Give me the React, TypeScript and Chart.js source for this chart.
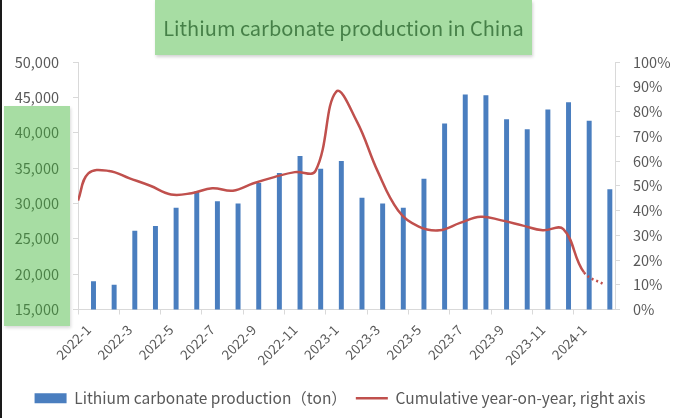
import React, { useEffect, useRef } from 'react';
import { Chart, registerables } from 'chart.js';

Chart.register(...registerables);

const MONTHS = [
  '2022-1', '2022-2', '2022-3', '2022-4', '2022-5', '2022-6', '2022-7', '2022-8', '2022-9', '2022-10', '2022-11', '2022-12',
  '2023-1', '2023-2', '2023-3', '2023-4', '2023-5', '2023-6', '2023-7', '2023-8', '2023-9', '2023-10', '2023-11', '2023-12',
  '2024-1', '2024-2',
];

const PRODUCTION = [
  19000, 18500, 26150, 26800, 29400, 31700, 30300, 30000, 32900, 34300, 36700, 34900,
  36000, 30800, 30000, 29400, 33500, 41300, 45400, 45300, 41900, 40500, 43300, 44300,
  41700, 32000,
];

// cumulative year-on-year (%), right axis; value where the curve enters the plot at its left edge
const YOY_EDGE = 44;
const YOY = [
  55, 56, 53, 50, 46.5, 47, 49, 48, 51, 53.5, 55.5, 56,
  88, 76, 56, 40, 33.5, 32, 35, 37.5, 36, 34, 32, 32.5,
  15, 10,
];

const BAR_LABEL = 'Lithium carbonate production（ton）';
const LINE_LABEL = 'Cumulative year-on-year, right axis';
const TITLE = 'Lithium carbonate production in China';

const FONT = "'Noto Sans CJK SC', 'Noto Sans', sans-serif";
const GRAY = '#595959';
const AXIS = '#d9d9d9';
const BLUE = '#4a7ebf';
const RED = '#c0504d';

export default function App() {
  const canvasRef = useRef<HTMLCanvasElement | null>(null);

  useEffect(() => {
    document.body.style.margin = '0';
    const canvas = canvasRef.current;
    if (!canvas) return;

    const lineData = [
      { x: -0.5, y: YOY_EDGE },
      ...YOY.map((v, i) => ({ x: i, y: v })),
    ];
    const lastIdx = lineData.length - 1;

    const chart = new Chart(canvas, {
      type: 'bar',
      data: {
        labels: MONTHS,
        datasets: [
          {
            type: 'line',
            label: LINE_LABEL,
            data: lineData as any,
            xAxisID: 'xl',
            yAxisID: 'y1',
            borderColor: RED,
            backgroundColor: RED,
            borderWidth: 2.5,
            pointRadius: 0,
            tension: 0.4,
            fill: false,
            order: 0,
            segment: {
              borderDash: (ctx: any) => (ctx.p1DataIndex === lastIdx ? [2, 3] : undefined),
            },
          } as any,
          {
            type: 'bar',
            label: BAR_LABEL,
            data: PRODUCTION,
            xAxisID: 'x',
            yAxisID: 'y',
            backgroundColor: BLUE,
            borderWidth: 0,
            categoryPercentage: 1,
            barPercentage: 0.48,
            order: 1,
          },
        ],
      },
      options: {
        animation: false,
        responsive: false,
        maintainAspectRatio: false,
        font: { family: FONT },
        layout: { padding: { top: 62, left: 0, right: 0, bottom: 2 } },
        plugins: {
          title: { display: false },
          tooltip: { enabled: false },
          legend: {
            position: 'bottom',
            labels: {
              color: GRAY,
              font: { family: FONT, size: 15.5 },
              usePointStyle: true,
              pointStyleWidth: 32,
              boxHeight: 10,
              padding: 9,
              generateLabels: (c: any) => {
                const items = Chart.defaults.plugins.legend.labels.generateLabels(c);
                items.forEach((it: any) => {
                  const ds = c.data.datasets[it.datasetIndex];
                  if (ds.type === 'line') {
                    it.pointStyle = 'line';
                    it.strokeStyle = RED;
                    it.lineWidth = 2.5;
                  } else {
                    it.pointStyle = 'rect';
                    it.fillStyle = BLUE;
                    it.strokeStyle = BLUE;
                    it.lineWidth = 0;
                  }
                });
                return items.sort((a: any, b: any) => (a.pointStyle === 'rect' ? -1 : 1) - (b.pointStyle === 'rect' ? -1 : 1));
              },
            },
          },
        },
        scales: {
          x: {
            type: 'category',
            offset: true,
            grid: {
              display: true,
              drawOnChartArea: false,
              drawTicks: true,
              tickLength: 5,
              offset: true,
              color: (ctx: any) => (ctx.index % 2 === 0 ? AXIS : 'rgba(0,0,0,0)'),
            },
            border: { display: true, color: AXIS },
            ticks: {
              autoSkip: false,
              maxRotation: 45,
              minRotation: 45,
              color: GRAY,
              font: { family: FONT, size: 13.5 },
              padding: 7,
              callback: (_v: any, i: number) => (i % 2 === 0 ? MONTHS[i] : ''),
            },
            afterFit: (s: any) => {
              s.height = 72;
            },
          },
          xl: {
            type: 'linear',
            position: 'top',
            display: true,
            offset: false,
            min: -0.5,
            max: MONTHS.length - 0.5,
            grid: { display: false, drawTicks: false, offset: false },
            border: { display: false },
            ticks: { display: false },
            afterFit: (s: any) => {
              s.height = 0;
            },
          },
          y: {
            position: 'left',
            min: 15000,
            max: 50000,
            grid: { display: true, drawOnChartArea: false, tickLength: 5, color: AXIS },
            border: { display: true, color: AXIS },
            ticks: {
              stepSize: 5000,
              color: GRAY,
              font: { family: FONT, size: 14.5 },
              padding: 14,
              callback: (v: any) => Number(v).toLocaleString('en-US'),
            },
            afterFit: (s: any) => {
              s.width = 78;
            },
          },
          y1: {
            position: 'right',
            min: 0,
            max: 100,
            grid: { display: true, drawOnChartArea: false, tickLength: 5, color: AXIS },
            border: { display: true, color: AXIS },
            ticks: {
              stepSize: 10,
              color: GRAY,
              font: { family: FONT, size: 14.5 },
              padding: 13,
              callback: (v: any) => `${v}%`,
            },
            afterFit: (s: any) => {
              s.width = 65;
            },
          },
        },
      } as any,
    });

    return () => {
      chart.destroy();
    };
  }, []);

  return (
    <div style={{ position: 'relative', width: 680, height: 418, background: '#ffffff', overflow: 'hidden' }}>
      <canvas ref={canvasRef} width={680} height={418} style={{ position: 'absolute', left: 0, top: 0, width: 680, height: 418 }} />
      <div
        style={{
          position: 'absolute',
          left: 155,
          top: 0,
          width: 377,
          height: 55,
          background: 'rgb(167,221,163)',
          boxShadow: '1px 2px 3px rgba(0,0,0,0.18)',
          color: 'rgb(70,128,72)',
          fontFamily: FONT,
          fontSize: 20,
          display: 'flex',
          alignItems: 'center',
          justifyContent: 'center',
          whiteSpace: 'nowrap',
        }}
      >
        {TITLE}
      </div>
      <div
        style={{
          position: 'absolute',
          left: 4,
          top: 106,
          width: 66,
          height: 220,
          background: 'rgba(60,180,50,0.45)',
          boxShadow: '1px 2px 3px rgba(0,0,0,0.15)',
          pointerEvents: 'none',
        }}
      />
      <div style={{ position: 'absolute', left: 0, top: 0, width: 2, height: 418, background: '#1a1a1a' }} />
    </div>
  );
}
